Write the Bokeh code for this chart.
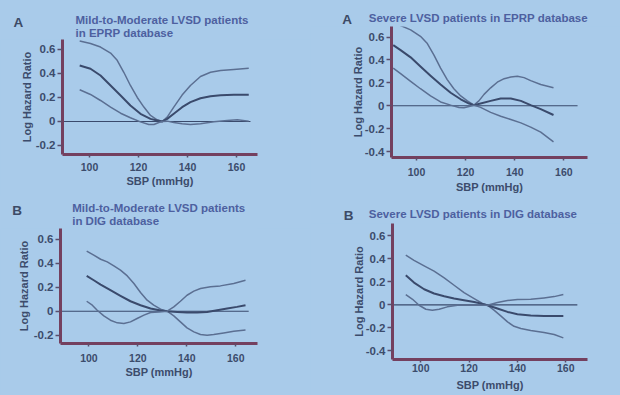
from bokeh.plotting import figure
from bokeh.layouts import column, row
from bokeh.models import FixedTicker, Range1d
from bokeh.core.properties import value
from bokeh.embed import file_html
from bokeh.resources import INLINE

# ---------------- data ----------------
x_ticks = [100, 120, 140, 160]
x_tick_labels = ["100", "120", "140", "160"]
y_ticks_short = [-0.2, 0, 0.2, 0.4, 0.6]
y_labels_short = ["-0.2", "0", "0.2", "0.4", "0.6"]
y_ticks_long = [-0.4, -0.2, 0, 0.2, 0.4, 0.6]
y_labels_long = ["-0.4", "-0.2", "0", "0.2", "0.4", "0.6"]

x_title = "SBP (mmHg)"
y_title = "Log Hazard Ratio"

panel_letters = ["A", "A", "B", "B"]
panel_titles = [
    ["Mild-to-Moderate LVSD patients", "in EPRP database"],
    ["Severe LVSD patients in EPRP database"],
    ["Mild-to-Moderate LVSD patients", "in DIG database"],
    ["Severe LVSD patients in DIG database"],
]

# Panel A left: Mild-to-Moderate LVSD, EPRP
a1_upper_x = [96, 100.4, 104.5, 108.6, 111.3, 114, 116.7, 119.5, 122.2, 124.9, 127.6, 129.7, 131.7, 134.4, 137.8, 141.2, 145.3, 149.4, 153.5, 158.9, 165]
a1_upper_y = [0.67, 0.65, 0.62, 0.57, 0.51, 0.41, 0.30, 0.20, 0.12, 0.05, 0.014, 0.0, 0.036, 0.12, 0.22, 0.30, 0.375, 0.41, 0.425, 0.433, 0.444]
a1_mid_x = [96, 100.4, 104.5, 108.6, 112.7, 116.7, 120.8, 124.9, 127.6, 129.7, 131.7, 134.4, 137.8, 141.2, 145.3, 149.4, 153.5, 158.9, 165]
a1_mid_y = [0.467, 0.439, 0.383, 0.30, 0.217, 0.133, 0.064, 0.022, 0.008, 0.0, 0.022, 0.064, 0.119, 0.161, 0.194, 0.211, 0.219, 0.222, 0.222]
a1_low_x = [96, 100.4, 104.5, 108.6, 112.7, 116.7, 120.8, 124.2, 126.3, 128.3, 129.7, 131.7, 134.4, 137.8, 141.2, 145.3, 150.8, 156.2, 160.3, 165]
a1_low_y = [0.264, 0.225, 0.175, 0.119, 0.069, 0.031, -0.003, -0.025, -0.025, -0.008, 0.0, 0.003, -0.008, -0.019, -0.025, -0.019, -0.003, 0.008, 0.014, 0.003]

# Panel A right: Severe LVSD, EPRP
a2_upper_x = [90.5, 93.5, 97.6, 101.6, 104.4, 107.1, 109.8, 112.5, 115.2, 118.0, 120.7, 123.4, 125.4, 127.5, 130.2, 132.9, 135.7, 138.4, 141.1, 143.8, 146.5, 150.6, 155.8]
a2_upper_y = [0.729, 0.70, 0.663, 0.606, 0.543, 0.443, 0.329, 0.229, 0.149, 0.086, 0.043, 0.006, 0.043, 0.10, 0.157, 0.206, 0.237, 0.251, 0.257, 0.246, 0.22, 0.186, 0.157]
a2_mid_x = [90.5, 93.5, 97.6, 101.6, 105.7, 109.8, 113.9, 118.0, 121.4, 123.4, 126.1, 130.2, 134.3, 138.4, 142.5, 146.5, 150.6, 155.8]
a2_mid_y = [0.529, 0.486, 0.423, 0.343, 0.263, 0.186, 0.114, 0.057, 0.02, 0.006, 0.02, 0.043, 0.063, 0.063, 0.043, 0.006, -0.029, -0.08]
a2_low_x = [90.5, 93.5, 97.6, 101.6, 105.7, 109.8, 113.9, 117.3, 119.3, 121.4, 123.4, 126.1, 130.2, 134.3, 138.4, 142.5, 146.5, 150.6, 155.8]
a2_low_y = [0.329, 0.28, 0.214, 0.149, 0.086, 0.034, 0.006, -0.014, -0.017, -0.006, 0.006, -0.014, -0.057, -0.091, -0.12, -0.149, -0.186, -0.229, -0.314]

# Panel B left: Mild-to-Moderate LVSD, DIG
b1_upper_x = [99.1, 102.0, 104.8, 107.5, 110.2, 112.9, 115.7, 118.4, 121.1, 123.8, 126.5, 129.3, 132.0, 134.7, 137.4, 140.1, 142.9, 145.6, 148.3, 151.0, 155.1, 159.2, 164.0]
b1_upper_y = [0.50, 0.467, 0.433, 0.411, 0.378, 0.342, 0.294, 0.231, 0.156, 0.092, 0.05, 0.017, 0.0, -0.039, -0.089, -0.139, -0.172, -0.194, -0.20, -0.194, -0.181, -0.167, -0.156]
b1_mid_x = [99.1, 102.0, 104.8, 108.8, 112.9, 117.0, 121.1, 125.2, 129.3, 132.0, 136.1, 140.1, 144.2, 148.3, 152.4, 156.5, 160.5, 164.0]
b1_mid_y = [0.294, 0.258, 0.222, 0.175, 0.128, 0.083, 0.05, 0.022, 0.006, 0.0, -0.006, -0.011, -0.011, -0.006, 0.008, 0.022, 0.036, 0.05]
b1_low_x = [99.1, 101.4, 103.4, 106.1, 108.8, 111.6, 114.3, 117.0, 119.7, 122.5, 125.2, 128.6, 132.0, 134.7, 137.4, 140.1, 142.9, 145.6, 149.7, 153.7, 159.2, 164.0]
b1_low_y = [0.083, 0.05, 0.008, -0.039, -0.075, -0.097, -0.103, -0.089, -0.061, -0.033, -0.011, -0.006, 0.0, 0.036, 0.083, 0.133, 0.167, 0.189, 0.203, 0.211, 0.231, 0.258]

# Panel B right: Severe LVSD, DIG
b2_upper_x = [93.8, 97.2, 101.4, 105.5, 109.7, 113.8, 117.9, 122.1, 125.5, 127.6, 130.3, 133.1, 135.9, 138.6, 141.4, 145.5, 151.0, 155.2, 159.0]
b2_upper_y = [0.432, 0.388, 0.339, 0.293, 0.235, 0.171, 0.107, 0.055, 0.012, -0.003, -0.046, -0.096, -0.148, -0.186, -0.206, -0.223, -0.241, -0.258, -0.287]
b2_mid_x = [93.8, 97.2, 101.4, 105.5, 109.7, 113.8, 117.9, 122.1, 125.5, 127.6, 131.7, 135.9, 140.0, 145.5, 151.0, 159.0]
b2_mid_y = [0.258, 0.194, 0.136, 0.099, 0.075, 0.055, 0.041, 0.026, 0.009, -0.003, -0.032, -0.061, -0.081, -0.093, -0.096, -0.096]
b2_low_x = [93.8, 96.6, 99.3, 102.1, 104.8, 107.6, 111.0, 115.2, 119.3, 123.5, 127.6, 131.7, 135.9, 140.0, 145.5, 151.0, 155.2, 159.0]
b2_low_y = [0.09, 0.049, -0.003, -0.038, -0.046, -0.038, -0.017, -0.003, -0.003, -0.003, -0.003, 0.02, 0.038, 0.046, 0.049, 0.061, 0.072, 0.09]

# ---------------- style ----------------
BG = "#a9cbea"
AXIS = "#74405f"
TICK = "#5b4e6b"
TXT = "#3c4c6c"
TITLE_C = "#4d60a0"
LETTER_C = "#3c4a66"
LIGHT = "#5b6f92"
DARK = "#3a4a6c"
FONT = "Liberation Sans"
BG_STYLE = {"background-color": BG}


def make_header(cfg, letter, lines):
    w, h = cfg["w"], cfg["th"]
    t = figure(width=w, height=h, output_backend="svg", toolbar_location=None,
               x_range=Range1d(0, w), y_range=Range1d(h, 0),
               x_axis_location=None, y_axis_location=None, min_border=0, frame_align=False,
               background_fill_color=BG, border_fill_color=BG, outline_line_color=None,
               styles=BG_STYLE)
    t.grid.visible = False
    lx, ly = cfg["letter_pos"]
    t.text(x=[lx], y=[ly], text=[letter], text_font=value(FONT), text_font_style="bold",
           text_font_size="13.5px", text_color=LETTER_C, text_baseline="alphabetic")
    tx, tys = cfg["title_pos"]
    t.text(x=[tx] * len(lines), y=tys[:len(lines)], text=lines, text_font=value(FONT),
           text_font_style="bold", text_font_size="11.5px", text_color=TITLE_C,
           text_baseline="alphabetic")
    return t


def make_panel(cfg, curves, yt, yl):
    p = figure(width=cfg["w"], height=cfg["h"], output_backend="svg", toolbar_location=None,
               x_range=Range1d(*cfg["xr"]), y_range=Range1d(*cfg["yr"]), frame_align=False,
               min_border_left=cfg["mb"][0], min_border_right=cfg["mb"][1],
               min_border_top=cfg["mb"][2], min_border_bottom=cfg["mb"][3],
               background_fill_color=BG, border_fill_color=BG, outline_line_color=None,
               styles=BG_STYLE)
    p.grid.visible = False
    p.segment(x0=[cfg["xr"][0]], y0=[0], x1=[cfg["zero_end"]], y1=[0], line_color=DARK, line_width=1.1)
    for (xs, ys), col, lw in zip(curves, [LIGHT, DARK, LIGHT], [1.5, 2.0, 1.5]):
        p.line(xs, ys, line_color=col, line_width=lw, line_join="round")

    xa = p.xaxis[0]
    xa.ticker = FixedTicker(ticks=x_ticks, minor_ticks=[])
    xa.major_label_overrides = {t: l for t, l in zip(x_ticks, x_tick_labels)}
    xa.axis_label = x_title
    ya = p.yaxis[0]
    ya.ticker = FixedTicker(ticks=yt, minor_ticks=[])
    ya.major_label_overrides = {t: l for t, l in zip(yt, yl)}
    ya.axis_label = y_title
    for ax in (xa, ya):
        ax.axis_line_color = AXIS
        ax.axis_line_width = 3
        ax.major_tick_line_color = TICK
        ax.major_tick_line_width = 1.5
        ax.major_tick_in = 0
        ax.minor_tick_line_color = None
        ax.major_label_text_font = FONT
        ax.major_label_text_font_style = "bold"
        ax.major_label_text_color = TXT
        ax.axis_label_text_font = FONT
        ax.axis_label_text_font_style = "bold"
        ax.axis_label_text_font_size = "11px"
        ax.axis_label_text_color = TXT
    xa.major_label_text_font_size = "10.5px"
    ya.major_label_text_font_size = "11.5px"
    ya.major_tick_out = 5
    ya.major_label_standoff = 2
    ya.axis_label_standoff = cfg["yls"]
    xa.major_tick_out = 3
    xa.major_label_standoff = cfg["xms"]
    xa.axis_label_standoff = cfg["xls"]
    return p


# header height (th) + plot height (h) = row height; the plot frame starts right under the header
cfgs = [
    dict(w=310, th=39, h=156, xr=(88.98, 168.57), yr=(-0.275, 0.683), mb=(62, 53, 0, 41), zero_end=165.7,
         yls=0, xms=5, xls=1, letter_pos=(13, 21.7), title_pos=(75, [19, 32])),
    dict(w=310, th=26, h=169, xr=(89.8, 169.65), yr=(-0.451, 0.692), mb=(81, 33, 0, 36), zero_end=165.6,
         yls=-2, xms=7, xls=2, letter_pos=(31.7, 19), title_pos=(58.3, [17])),
    dict(w=310, th=33, h=167, xr=(88.4, 168.9), yr=(-0.269, 0.689), mb=(60, 53, 0, 52), zero_end=165.3,
         yls=1, xms=7, xls=1, letter_pos=(11.7, 15), title_pos=(71.7, [12.7, 25])),
    dict(w=310, th=28, h=172, xr=(88.3, 169.0), yr=(-0.475, 0.708), mb=(82, 33, 0, 36), zero_end=164.8,
         yls=-2, xms=1, xls=4, letter_pos=(33.3, 20), title_pos=(58.3, [18])),
]

all_curves = [
    [(a1_upper_x, a1_upper_y), (a1_mid_x, a1_mid_y), (a1_low_x, a1_low_y)],
    [(a2_upper_x, a2_upper_y), (a2_mid_x, a2_mid_y), (a2_low_x, a2_low_y)],
    [(b1_upper_x, b1_upper_y), (b1_mid_x, b1_mid_y), (b1_low_x, b1_low_y)],
    [(b2_upper_x, b2_upper_y), (b2_mid_x, b2_mid_y), (b2_low_x, b2_low_y)],
]
all_yticks = [(y_ticks_short, y_labels_short), (y_ticks_long, y_labels_long),
              (y_ticks_short, y_labels_short), (y_ticks_long, y_labels_long)]

cols = []
for cfg, letter, lines, curves, (yt, yl) in zip(cfgs, panel_letters, panel_titles, all_curves, all_yticks):
    cols.append(column(make_header(cfg, letter, lines), make_panel(cfg, curves, yt, yl),
                       styles=BG_STYLE))

layout = column(row(cols[0], cols[1], styles=BG_STYLE), row(cols[2], cols[3], styles=BG_STYLE),
                styles=BG_STYLE)

open("out.html", "w").write(file_html(layout, INLINE))
